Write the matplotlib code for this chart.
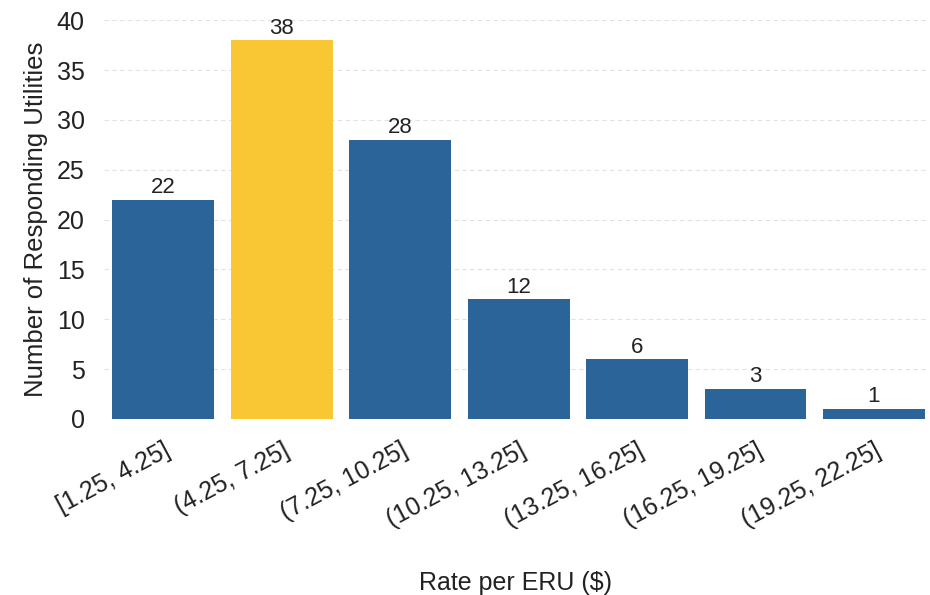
import matplotlib.pyplot as plt
import numpy as np

plt.rcParams['font.family'] = ['Liberation Sans', 'DejaVu Sans']

# ERU rate bins ($) and number of utilities in each
rate_bins = ["[1.25, 4.25]", "(4.25, 7.25]", "(7.25, 10.25]", "(10.25, 13.25]",
             "(13.25, 16.25]", "(16.25, 19.25]", "(19.25, 22.25]"]
utility_counts = [22, 38, 28, 12, 6, 3, 1]
highlight_bin = "(4.25, 7.25]"

BLUE = "#2b6498"
YELLOW = "#f8c733"
TEXT = "#222222"


def main() -> None:
    fig = plt.figure(figsize=(9.3, 5.95), dpi=100)
    ax = fig.add_axes([0.112, 0.296, 0.885, 0.670])

    x = np.arange(len(rate_bins))
    colors = [YELLOW if b == highlight_bin else BLUE for b in rate_bins]
    bars = ax.bar(x, utility_counts, width=0.86, color=colors, zorder=2)

    for bar, count in zip(bars, utility_counts):
        ax.text(bar.get_x() + bar.get_width() / 2, bar.get_height() + 0.15, str(count),
                ha='center', va='bottom', fontsize=16, color=TEXT)

    ax.set_ylim(0, 40)
    ax.set_xlim(-0.5, len(rate_bins) - 0.55)
    ax.set_yticks(np.arange(0, 41, 5))
    ax.yaxis.grid(True, linestyle=(0, (4, 3)), color='#e2e2e2', linewidth=0.8, zorder=0)
    for side in ['top', 'right', 'left', 'bottom']:
        ax.spines[side].set_visible(False)
    ax.tick_params(axis='both', length=0, colors=TEXT)
    ax.tick_params(axis='y', labelsize=18, pad=14)

    ax.set_xticks(x)
    ax.set_xticklabels(rate_bins, rotation=28, ha='right', rotation_mode='anchor', fontsize=18)
    ax.tick_params(axis='x', pad=14)

    ax.set_ylabel('Number of Responding Utilities', fontsize=18.5, color=TEXT, labelpad=6)
    ax.set_xlabel('Rate per ERU ($)', fontsize=18, color=TEXT, labelpad=28)

    fig.savefig('out.png', dpi=100, facecolor='white')


if __name__ == "__main__":
    main()
